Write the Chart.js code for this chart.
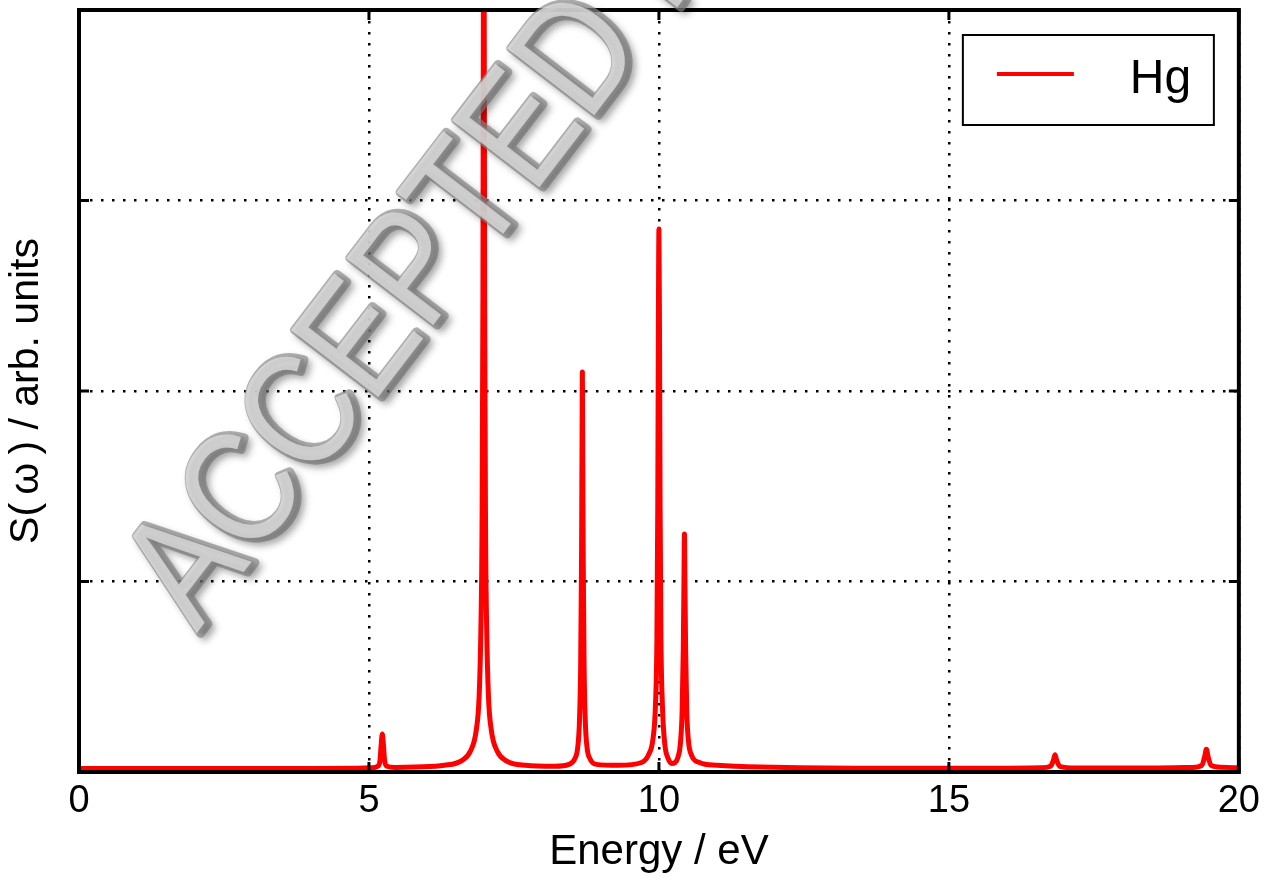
<!DOCTYPE html>
<html>
<head>
<meta charset="utf-8">
<script src="https://cdn.jsdelivr.net/npm/chart.js@4"></script>
<style>
  body { margin: 0; background: #fff; }
  canvas { display: block; }
</style>
</head>
<body>
<canvas id="spectrum" width="1267" height="880"></canvas>
<script>
// --- Hg spectrum S(w) ---
const energy = [
  0, 2, 4, 4.8,
  5.05, 5.15, 5.19, 5.21, 5.23, 5.25, 5.27, 5.31, 5.45,
  5.8, 6.3, 6.6, 6.75, 6.85, 6.9, 6.93, 6.95, 6.965, 6.975, 6.98, 6.985, 6.995, 7.01, 7.03, 7.06, 7.11, 7.21, 7.36, 7.7, 8.2,
  8.45, 8.55, 8.6, 8.63, 8.65, 8.665, 8.675, 8.68, 8.685, 8.695, 8.71, 8.73, 8.76, 8.81, 8.92,
  9.3, 9.7, 9.82, 9.9, 9.94, 9.965, 9.98, 9.99, 10.0, 10.01, 10.02, 10.035, 10.06, 10.1, 10.16, 10.22, 10.28,
  10.33, 10.37, 10.4, 10.42, 10.43, 10.44, 10.45, 10.46, 10.48, 10.51, 10.56, 10.7, 11.0, 12, 14, 16, 16.6,
  16.75, 16.8, 16.83, 16.86, 16.91, 17.2, 18.5, 19.2,
  19.36, 19.41, 19.44, 19.47, 19.52, 19.7, 20
];
const intensity = [
  0.018, 0.018, 0.019, 0.02,
  0.022, 0.03, 0.06, 0.14, 0.2, 0.14, 0.06, 0.03, 0.024,
  0.026, 0.035, 0.06, 0.11, 0.22, 0.4, 0.75, 1.3, 2.5, 4.5, 6, 4.5, 2.5, 1.3, 0.75, 0.4, 0.22, 0.11, 0.06, 0.035, 0.03,
  0.04, 0.07, 0.13, 0.27, 0.55, 1.1, 1.8, 2.1, 1.8, 1.1, 0.55, 0.27, 0.13, 0.07, 0.04,
  0.035, 0.05, 0.09, 0.18, 0.35, 0.7, 1.4, 2.3, 2.85, 2.3, 1.4, 0.7, 0.35, 0.15, 0.07, 0.045, 0.05,
  0.08, 0.15, 0.32, 0.65, 0.95, 1.25, 0.95, 0.65, 0.32, 0.16, 0.09, 0.05, 0.035, 0.025, 0.02, 0.02, 0.022,
  0.03, 0.06, 0.09, 0.06, 0.03, 0.021, 0.021, 0.024,
  0.035, 0.08, 0.12, 0.08, 0.035, 0.025, 0.022
];
const xTicks = [0, 5, 10, 15, 20];
const yTicks = [0, 1, 2, 3, 4];
const seriesLabel = "Hg";

const FONT = "'Liberation Sans', Arial, Helvetica, sans-serif";

// frame, inward ticks, legend box and watermark
const framePlugin = {
  id: 'frame',
  afterDraw(chart) {
    const { ctx, chartArea: a, scales: { x, y } } = chart;
    ctx.save();
    ctx.strokeStyle = '#000';
    ctx.lineCap = 'butt';
    // inward ticks
    ctx.lineWidth = 3;
    xTicks.forEach(v => {
      const px = x.getPixelForValue(v);
      ctx.beginPath();
      ctx.moveTo(px, a.bottom); ctx.lineTo(px, a.bottom - 10);
      ctx.moveTo(px, a.top); ctx.lineTo(px, a.top + 10);
      ctx.stroke();
    });
    yTicks.forEach(v => {
      const py = y.getPixelForValue(v);
      ctx.beginPath();
      ctx.moveTo(a.left, py); ctx.lineTo(a.left + 10, py);
      ctx.moveTo(a.right, py); ctx.lineTo(a.right - 10, py);
      ctx.stroke();
    });
    ctx.lineWidth = 4;
    ctx.strokeRect(a.left, a.top, a.right - a.left, a.bottom - a.top);

    // legend
    const lx = a.right - 276, ly = a.top + 25;
    ctx.lineWidth = 2;
    ctx.strokeRect(lx, ly, 251, 90);
    ctx.strokeStyle = '#ff0000';
    ctx.lineWidth = 4;
    ctx.beginPath();
    ctx.moveTo(lx + 34, ly + 39); ctx.lineTo(lx + 111, ly + 39);
    ctx.stroke();
    ctx.fillStyle = '#000';
    ctx.font = `48px ${FONT}`;
    ctx.textBaseline = 'alphabetic';
    ctx.textAlign = 'left';
    ctx.fillText(seriesLabel, lx + 167, ly + 58);

    // watermark
    const mark = 'ACCEPTED MANUSCRIPT';
    ctx.translate(200, 634);
    ctx.rotate(-52.5 * Math.PI / 180);
    ctx.scale(0.85, 1);
    ctx.font = `160px ${FONT}`;
    ctx.lineJoin = 'round';
    ctx.shadowColor = 'rgba(0,0,0,0.35)';
    ctx.shadowBlur = 7;
    ctx.shadowOffsetX = 4;
    ctx.shadowOffsetY = 4;
    ctx.lineWidth = 9;
    ctx.strokeStyle = 'rgba(140,140,140,0.7)';
    ctx.fillStyle = 'rgba(140,140,140,0.7)';
    ctx.strokeText(mark, 0, 0);
    ctx.fillText(mark, 0, 0);
    ctx.shadowColor = 'transparent';
    ctx.fillStyle = 'rgba(225,225,225,0.75)';
    ctx.fillText(mark, -2, -3);
    ctx.restore();
  }
};

new Chart(document.getElementById('spectrum'), {
  type: 'line',
  data: {
    datasets: [{
      label: seriesLabel,
      data: energy.map((e, i) => ({ x: e, y: intensity[i] })),
      borderColor: '#ff0000',
      borderWidth: 5,
      pointRadius: 0,
      cubicInterpolationMode: 'monotone',
      borderJoinStyle: 'round',
      borderCapStyle: 'round',
      fill: false
    }]
  },
  options: {
    responsive: false,
    animation: false,
    layout: { padding: { top: 10, right: 27, left: 0, bottom: 0 } },
    plugins: {
      legend: { display: false },
      tooltip: { enabled: false }
    },
    scales: {
      x: {
        type: 'linear',
        min: 0, max: 20,
        z: 1,
        afterFit(scale) { scale.height = 108; },
        afterBuildTicks(scale) { scale.ticks = xTicks.map(v => ({ value: v })); },
        ticks: { color: '#000', padding: 7, font: { family: FONT, size: 38 } },
        grid: { color: '#000', lineWidth: 2.5, drawTicks: false },
        border: { display: false, dash: [2.5, 8.5] },
        title: {
          display: true, text: 'Energy / eV', color: '#000',
          font: { family: FONT, size: 42 }, padding: { top: 0, bottom: 2 }
        }
      },
      y: {
        min: 0, max: 4,
        z: 1,
        afterFit(scale) { scale.width = 79; },
        afterBuildTicks(scale) { scale.ticks = yTicks.map(v => ({ value: v })); },
        ticks: { display: false },
        grid: { color: '#000', lineWidth: 2.5, drawTicks: false },
        border: { display: false, dash: [2.5, 8.5] },
        title: {
          display: true, text: 'S(\u2009\u03c9\u2009) / arb. units', color: '#000',
          font: { family: FONT, size: 41 }, padding: { top: 2, bottom: 0 }
        }
      }
    }
  },
  plugins: [framePlugin]
});
</script>
</body>
</html>
